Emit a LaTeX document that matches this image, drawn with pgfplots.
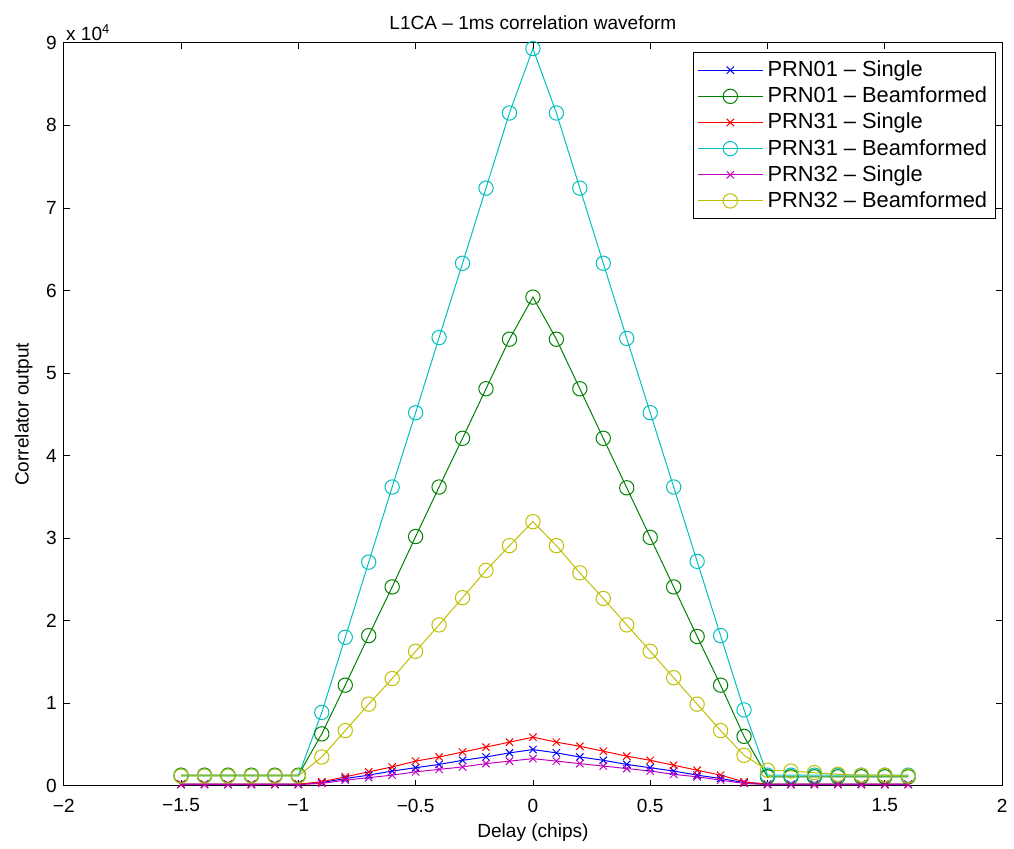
\documentclass[border=0pt]{standalone}
\usepackage{fontspec}
\setmainfont{Liberation Sans}
\usepackage{pgfplots}
\pgfplotsset{compat=1.18}

\definecolor{mBlue}{rgb}{0,0,1}
\definecolor{mGreen}{rgb}{0,0.5,0}
\definecolor{mRed}{rgb}{1,0,0}
\definecolor{mCyan}{rgb}{0,0.75,0.75}
\definecolor{mMag}{rgb}{0.75,0,0.75}
\definecolor{mYel}{rgb}{0.75,0.75,0}

\begin{document}
\begin{tikzpicture}
\begin{axis}[
    scale only axis,
    width=471bp, height=373bp,
    xmin=-2, xmax=2, ymin=0, ymax=90000,
    xtick={-2,-1.5,-1,-0.5,0,0.5,1,1.5,2},
    xticklabels={−2,−1.5,−1,−0.5,0,0.5,1,1.5,2},
    ytick={0,10000,20000,30000,40000,50000,60000,70000,80000,90000},
    yticklabels={0,1,2,3,4,5,6,7,8,9},
    scaled y ticks=false,
    font=\fontsize{9.6}{11}\selectfont,
    tick align=inside,
    major tick length=3bp,
    tick style={black, line width=0.4pt},
    axis line style={line width=0.4pt},
    xticklabel style={yshift=-3bp},
    title={L1CA -- 1ms correlation waveform},
    title style={yshift=-3bp},
    xlabel={Delay (chips)},
    ylabel={Correlator output},
    xlabel style={yshift=1bp},
    ylabel style={yshift=0bp},
    legend style={at={(rel axis cs:0.993,0.987)}, anchor=north east, draw=black, line width=0.4pt,
        font=\fontsize{11}{13}\selectfont, row sep=-0.3bp, inner sep=2bp},
    legend cell align=left,
    legend image code/.code={\draw[mark repeat=2, mark phase=2, #1] plot coordinates {(0cm,0cm) (0.58cm,0cm) (1.16cm,0cm)};},
    every axis plot/.append style={line width=0.5pt},
    cross/.style={mark=x, mark size=2.6bp, mark options={line width=0.5pt}},
    circ/.style={mark=o, mark size=3.6bp, mark options={line width=0.5pt}},
    clip=false,
]
% PRN01 - Single
\addplot[mBlue, cross] coordinates {
(-1.5,200) (-1.4,200) (-1.3,200) (-1.2,200) (-1.1,200) (-1.0,200)
(-0.9,400) (-0.8,900) (-0.7,1300) (-0.6,1800) (-0.5,2200) (-0.4,2600) (-0.3,3100) (-0.2,3500) (-0.1,4000)
(0,4400)
(0.1,4000) (0.2,3500) (0.3,3100) (0.4,2600) (0.5,2200) (0.6,1800) (0.7,1300) (0.8,900) (0.9,400)
(1.0,200) (1.1,200) (1.2,200) (1.3,200) (1.4,200) (1.5,200) (1.6,200)};
\addlegendentry{PRN01 -- Single}
% PRN01 - Beamformed
\addplot[mGreen, circ] coordinates {
(-1.5,1300) (-1.4,1300) (-1.3,1300) (-1.2,1300) (-1.1,1300) (-1.0,1300)
(-0.9,6300) (-0.8,12200) (-0.7,18200) (-0.6,24100) (-0.5,30200) (-0.4,36200) (-0.3,42100) (-0.2,48100) (-0.1,54100)
(0,59200)
(0.1,54100) (0.2,48100) (0.3,42100) (0.4,36100) (0.5,30100) (0.6,24100) (0.7,18100) (0.8,12200) (0.9,6000)
(1.0,1100) (1.1,1100) (1.2,1100) (1.3,1100) (1.4,1100) (1.5,1100) (1.6,1100)};
\addlegendentry{PRN01 -- Beamformed}
% PRN31 - Single
\addplot[mRed, cross] coordinates {
(-1.5,200) (-1.4,200) (-1.3,200) (-1.2,200) (-1.1,200) (-1.0,200)
(-0.9,500) (-0.8,1100) (-0.7,1700) (-0.6,2300) (-0.5,3000) (-0.4,3500) (-0.3,4100) (-0.2,4700) (-0.1,5300)
(0,5900)
(0.1,5300) (0.2,4800) (0.3,4200) (0.4,3600) (0.5,3100) (0.6,2500) (0.7,1900) (0.8,1300) (0.9,500)
(1.0,200) (1.1,200) (1.2,200) (1.3,200) (1.4,200) (1.5,200) (1.6,200)};
\addlegendentry{PRN31 -- Single}
% PRN31 - Beamformed
\addplot[mCyan, circ] coordinates {
(-1.5,1200) (-1.4,1200) (-1.3,1200) (-1.2,1200) (-1.1,1200) (-1.0,1200)
(-0.9,8900) (-0.8,18000) (-0.7,27100) (-0.6,36200) (-0.5,45200) (-0.4,54300) (-0.3,63300) (-0.2,72400) (-0.1,81500)
(0,89300)
(0.1,81500) (0.2,72400) (0.3,63300) (0.4,54200) (0.5,45200) (0.6,36200) (0.7,27200) (0.8,18200) (0.9,9200)
(1.0,1300) (1.1,1300) (1.2,1300) (1.3,1300) (1.4,1300) (1.5,1300) (1.6,1300)};
\addlegendentry{PRN31 -- Beamformed}
% PRN32 - Single
\addplot[mMag, cross] coordinates {
(-1.5,150) (-1.4,150) (-1.3,150) (-1.2,150) (-1.1,150) (-1.0,150)
(-0.9,300) (-0.8,700) (-0.7,1000) (-0.6,1300) (-0.5,1700) (-0.4,2000) (-0.3,2300) (-0.2,2700) (-0.1,3000)
(0,3300)
(0.1,3000) (0.2,2700) (0.3,2400) (0.4,2100) (0.5,1800) (0.6,1400) (0.7,1100) (0.8,700) (0.9,300)
(1.0,150) (1.1,150) (1.2,150) (1.3,150) (1.4,150) (1.5,150) (1.6,150)};
\addlegendentry{PRN32 -- Single}
% PRN32 - Beamformed
\addplot[mYel, circ] coordinates {
(-1.5,1200) (-1.4,1200) (-1.3,1200) (-1.2,1200) (-1.1,1200) (-1.0,1200)
(-0.9,3500) (-0.8,6700) (-0.7,9900) (-0.6,13000) (-0.5,16300) (-0.4,19500) (-0.3,22800) (-0.2,26100) (-0.1,29100)
(0,32000)
(0.1,29100) (0.2,25800) (0.3,22700) (0.4,19500) (0.5,16300) (0.6,13100) (0.7,9900) (0.8,6700) (0.9,3700)
(1.0,1900) (1.1,1800) (1.2,1600) (1.3,1400) (1.4,1300) (1.5,1300) (1.6,1200)};
\addlegendentry{PRN32 -- Beamformed}
\node[anchor=south west, inner sep=1pt, font=\fontsize{9.6}{11}\selectfont]
    at (rel axis cs:0,1) {x 10\raisebox{0.65ex}{\fontsize{6.5}{7}\selectfont 4}};
\end{axis}
\path (current axis.south west) ++(-32bp,-29.5bp) coordinate (bbsw);
\path (current axis.north east) ++(4bp,21.5bp) coordinate (bbne);
\useasboundingbox (bbsw) rectangle (bbne);
\end{tikzpicture}
\end{document}
